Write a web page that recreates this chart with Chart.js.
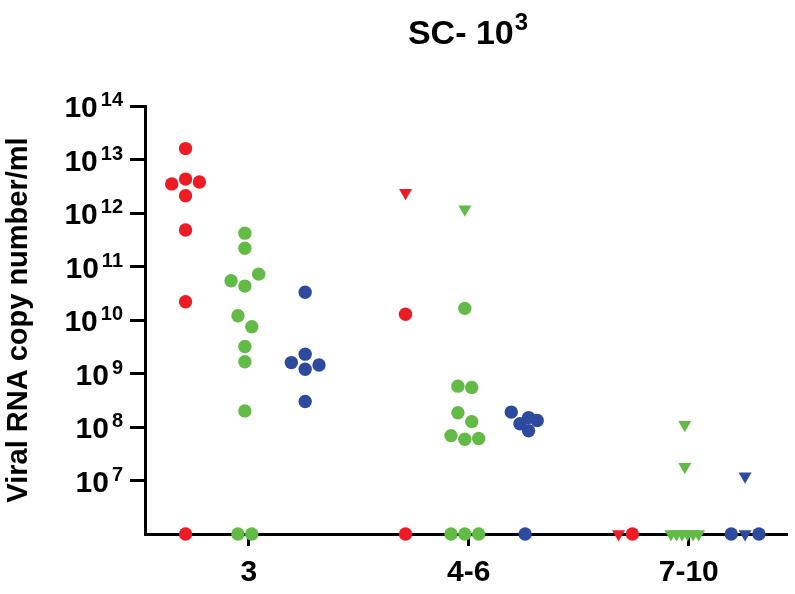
<!DOCTYPE html>
<html>
<head>
<meta charset="utf-8">
<title>SC-10^3</title>
<script src="https://cdn.jsdelivr.net/npm/chart.js@4/dist/chart.umd.min.js"></script>
<style>
  html, body { margin: 0; padding: 0; background: #fff; overflow: hidden; }
  canvas { display: block; }
</style>
</head>
<body>
<canvas id="chart" width="795" height="594"></canvas>
<script>
const categories = ['3', '4-6', '7-10'];
const yTickPowers = [7, 8, 9, 10, 11, 12, 13, 14];
const LOD = 1e6; // not-detected samples (0) sit on the x axis

// one row per category (3, 4-6, 7-10), copies/ml; 0 = not detected
const redCircles = [
  [1.6e13, 4.3e12, 3.8e12, 3.5e12, 2.1e12, 4.8e11, 2.2e10, 0],
  [1.28e10, 0],
  [0],
];
const redTriangles = [[], [2.4e12], [0]];

const greenCircles = [
  [4.2e11, 2.2e11, 4.3e10, 7.2e10, 5.4e10, 1.2e10, 7.5e9, 3.2e9, 1.66e9, 2.0e8, 0, 0],
  [1.65e10, 5.8e8, 5.5e8, 1.85e8, 1.26e8, 5.9e7, 6.1e7, 6.9e7, 0, 0, 0],
  [],
];
const greenTriangles = [[], [1.17e12], [1.1e8, 1.8e7, 0, 0, 0, 0, 0, 0]];

const blueCircles = [
  [3.3e10, 2.3e9, 1.44e9, 1.6e9, 1.2e9, 3.0e8],
  [1.15e8, 1.5e8, 1.9e8, 8.5e7, 1.32e8, 0],
  [0, 0],
];
const blueTriangles = [[], [], [1.2e7, 0]];

// layout
const FONT = "'Liberation Sans', Arial, Helvetica, sans-serif";
const CHART_LEFT = 145;
const CHART_TOP = 106;
const CHART_BOTTOM = 534;
const X_MIN = -0.472;
const X_MAX = 2.449;
const PLOT_W = 795 - CHART_LEFT;
const PLOT_H = CHART_BOTTOM - CHART_TOP;
const PX_PER_UNIT = PLOT_W / (X_MAX - X_MIN);
const PX_PER_DECADE = PLOT_H / (Math.log10(1e14) - Math.log10(LOD));

const DOT_R = 6.7;
const TRI_R = 7.5;
const STEP = 14;      // horizontal step between neighbours in a swarm
const HIT = 13;       // two dots closer than this overlap
const MAX_SPREAD = 14;

const series = [
  { name: 'Group 1', color: '#ED1C24', circles: redCircles, triangles: redTriangles, shift: -64 },
  { name: 'Group 2', color: '#62BB47', circles: greenCircles, triangles: greenTriangles, shift: -4 },
  { name: 'Group 3', color: '#2E4A9F', circles: blueCircles, triangles: blueTriangles, shift: 57 },
];

// simple beeswarm: greedy placement, then centre each vertical cluster
function swarm(values) {
  const ys = values.map(v => Math.log10(Math.max(v, LOD)) * PX_PER_DECADE);
  const offs = [];
  ys.forEach((y, i) => {
    for (let k = 0; ; k++) {
      const step = k === 0 ? 0 : Math.ceil(k / 2) * (k % 2 ? 1 : -1);
      const off = step * STEP;
      const free = offs.every((o, j) => Math.hypot(off - o, y - ys[j]) >= HIT);
      if (free) { offs[i] = off; break; }
    }
  });

  const order = ys.map((_, i) => i).sort((a, b) => ys[b] - ys[a]);
  let cluster = [];
  const flush = () => {
    if (!cluster.length) return;
    const mean = cluster.reduce((s, i) => s + offs[i], 0) / cluster.length;
    cluster.forEach(i => { offs[i] -= mean; });
    const spread = Math.max(...cluster.map(i => Math.abs(offs[i])));
    if (spread > MAX_SPREAD) cluster.forEach(i => { offs[i] *= MAX_SPREAD / spread; });
    cluster = [];
  };
  order.forEach((i, n) => {
    if (n > 0 && ys[order[n - 1]] - ys[i] >= HIT) flush();
    cluster.push(i);
  });
  flush();
  return offs;
}

const datasets = [];
series.forEach(s => {
  const dots = [];
  const tris = [];
  categories.forEach((_, c) => {
    const tri = s.triangles[c];
    const all = tri.concat(s.circles[c]);
    const offs = swarm(all);
    all.forEach((v, i) => {
      const pt = { x: c + (s.shift + offs[i]) / PX_PER_UNIT, y: Math.max(v, LOD) };
      (i < tri.length ? tris : dots).push(pt);
    });
  });
  datasets.push({
    label: s.name,
    data: dots,
    backgroundColor: s.color,
    pointRadius: DOT_R,
    pointBorderWidth: 0,
    pointHoverRadius: DOT_R,
    clip: false,
  });
  datasets.push({
    label: s.name + ' (triangle)',
    data: tris,
    backgroundColor: s.color,
    pointStyle: 'triangle',
    rotation: 180,
    pointRadius: TRI_R,
    pointBorderWidth: 0,
    pointHoverRadius: TRI_R,
    clip: false,
  });
});

// "10" with a raised exponent for the y ticks, and the chart title
const powerLabels = {
  id: 'powerLabels',
  afterDraw(chart) {
    const { ctx } = chart;
    const yScale = chart.scales.y;
    ctx.save();
    ctx.fillStyle = '#000';
    ctx.textBaseline = 'alphabetic';
    ctx.textAlign = 'left';
    yTickPowers.forEach(p => {
      const py = yScale.getPixelForValue(10 ** p);
      const exp = String(p);
      ctx.font = `bold 20px ${FONT}`;
      const expW = ctx.measureText(exp).width;
      const expX = 123 - expW;
      ctx.fillText(exp, expX, py);
      ctx.font = `bold 30px ${FONT}`;
      const baseW = ctx.measureText('10').width;
      ctx.fillText('10', expX - 3 - baseW, py + 11);
    });

    const main = 'SC- 10';
    ctx.font = `bold 34px ${FONT}`;
    const mainW = ctx.measureText(main).width;
    ctx.font = `bold 24px ${FONT}`;
    const supW = ctx.measureText('3').width;
    const x0 = 468 - (mainW + 1 + supW) / 2;
    ctx.font = `bold 34px ${FONT}`;
    ctx.fillText(main, x0, 44);
    ctx.font = `bold 24px ${FONT}`;
    ctx.fillText('3', x0 + mainW + 1, 30);
    ctx.restore();
  },
};

new Chart(document.getElementById('chart'), {
  type: 'scatter',
  data: { datasets },
  options: {
    responsive: false,
    animation: false,
    devicePixelRatio: 1,
    events: [],
    layout: { padding: { top: CHART_TOP, left: 0, right: 0, bottom: 0 } },
    plugins: {
      legend: { display: false },
      tooltip: { enabled: false },
    },
    scales: {
      x: {
        type: 'linear',
        min: X_MIN,
        max: X_MAX,
        afterBuildTicks: axis => { axis.ticks = categories.map((_, i) => ({ value: i })); },
        afterFit: axis => { axis.height = 594 - CHART_BOTTOM; },
        grid: { drawOnChartArea: false, tickLength: 12, tickWidth: 3, tickColor: '#000' },
        border: { width: 3, color: '#000' },
        ticks: {
          callback: v => categories[v] ?? '',
          color: '#000',
          font: { family: FONT, size: 30, weight: 'bold' },
          padding: 9,
          autoSkip: false,
          maxRotation: 0,
        },
      },
      y: {
        type: 'logarithmic',
        min: LOD,
        max: 1e14,
        afterBuildTicks: axis => { axis.ticks = yTickPowers.map(p => ({ value: 10 ** p })); },
        afterFit: axis => { axis.width = CHART_LEFT; },
        grid: { drawOnChartArea: false, tickLength: 15, tickWidth: 3, tickColor: '#000' },
        border: { width: 3, color: '#000' },
        ticks: { display: false },
        title: {
          display: true,
          text: 'Viral RNA copy number/ml',
          color: '#000',
          font: { family: FONT, size: 29, weight: 'bold' },
          padding: { top: 2, bottom: 0 },
        },
      },
    },
  },
  plugins: [powerLabels],
});
</script>
</body>
</html>
